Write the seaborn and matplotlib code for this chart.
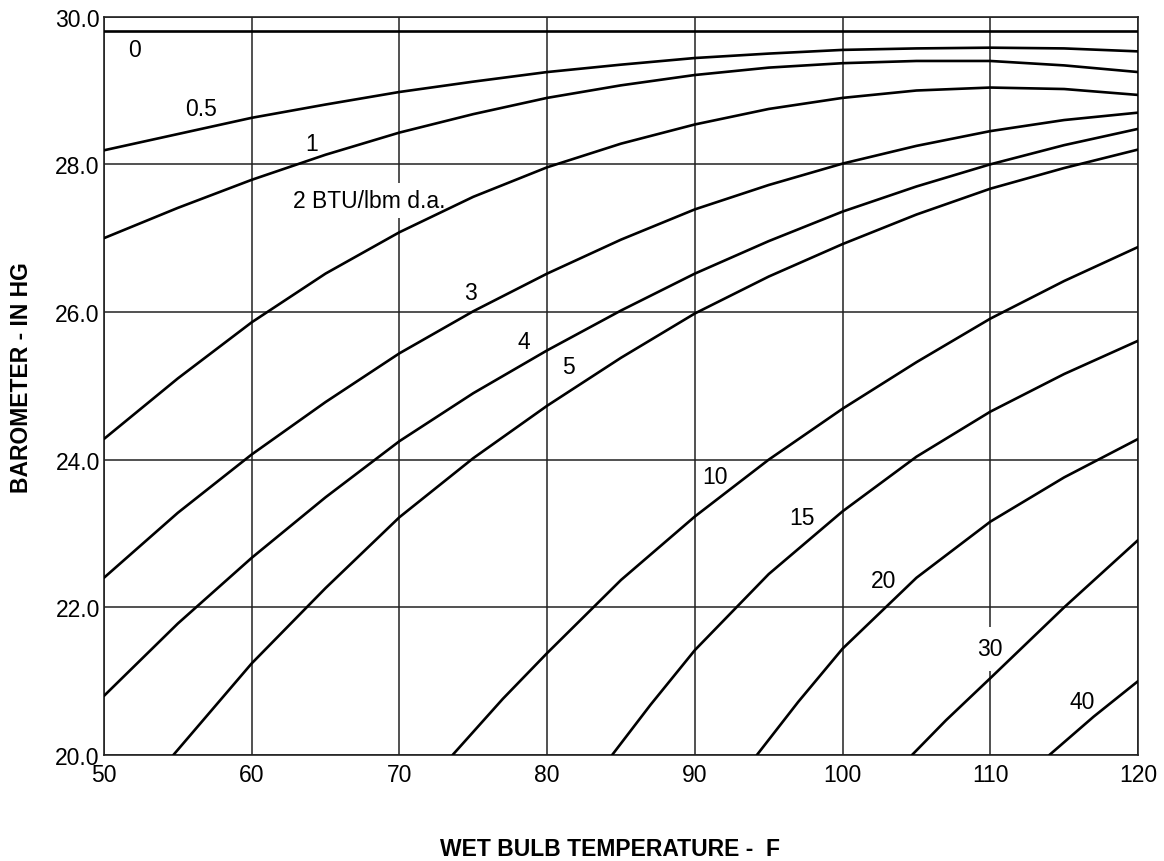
import matplotlib
matplotlib.use('Agg')
import matplotlib.pyplot as plt
import pandas as pd
import seaborn as sns

# Chart data: barometer (in Hg) vs wet bulb temperature (F) per curve
wb_full = [50, 55, 60, 65, 70, 75, 80, 85, 90, 95, 100, 105, 110, 115, 120]

curve_0_x = [50, 120]
curve_0_y = [29.80, 29.80]

curve_05_x = wb_full
curve_05_y = [28.19, 28.41, 28.63, 28.81, 28.98, 29.12, 29.25, 29.35, 29.44, 29.50,
              29.55, 29.57, 29.58, 29.57, 29.53]

curve_1_x = wb_full
curve_1_y = [27.00, 27.41, 27.79, 28.13, 28.43, 28.68, 28.90, 29.07, 29.21, 29.31,
             29.37, 29.40, 29.40, 29.34, 29.25]

curve_2_x = wb_full
curve_2_y = [24.28, 25.10, 25.86, 26.52, 27.08, 27.56, 27.96, 28.28, 28.54, 28.75,
             28.90, 29.00, 29.04, 29.02, 28.94]

curve_3_x = wb_full
curve_3_y = [22.40, 23.28, 24.07, 24.78, 25.44, 26.01, 26.52, 26.98, 27.39, 27.72,
             28.01, 28.25, 28.45, 28.60, 28.70]

curve_4_x = wb_full
curve_4_y = [20.80, 21.78, 22.67, 23.49, 24.25, 24.90, 25.48, 26.02, 26.52, 26.96,
             27.36, 27.70, 28.00, 28.26, 28.48]

curve_5_x = [54.7, 60, 65, 70, 75, 80, 85, 90, 95, 100, 105, 110, 115, 120]
curve_5_y = [20.00, 21.24, 22.26, 23.22, 24.02, 24.73, 25.38, 25.98, 26.48, 26.92,
             27.32, 27.67, 27.95, 28.20]

curve_10_x = [73.6, 77, 80, 85, 90, 95, 100, 105, 110, 115, 120]
curve_10_y = [20.00, 20.76, 21.38, 22.37, 23.23, 24.00, 24.69, 25.32, 25.91, 26.42, 26.88]

curve_15_x = [84.4, 87, 90, 95, 100, 105, 110, 115, 120]
curve_15_y = [20.00, 20.68, 21.42, 22.45, 23.30, 24.04, 24.65, 25.16, 25.61]

curve_20_x = [94.2, 97, 100, 105, 110, 115, 120]
curve_20_y = [20.00, 20.72, 21.44, 22.40, 23.16, 23.76, 24.28]

curve_30_x = [104.7, 107, 110, 115, 120]
curve_30_y = [20.00, 20.47, 21.04, 22.00, 22.91]

curve_40_x = [114.0, 117, 120]
curve_40_y = [20.00, 20.52, 21.00]

curve_names = ['0', '0.5', '1', '2', '3', '4', '5', '10', '15', '20', '30', '40']
curve_xs = [curve_0_x, curve_05_x, curve_1_x, curve_2_x, curve_3_x, curve_4_x,
            curve_5_x, curve_10_x, curve_15_x, curve_20_x, curve_30_x, curve_40_x]
curve_ys = [curve_0_y, curve_05_y, curve_1_y, curve_2_y, curve_3_y, curve_4_y,
            curve_5_y, curve_10_y, curve_15_y, curve_20_y, curve_30_y, curve_40_y]

# curve labels and where they sit
label_texts = ['0', '0.5', '1', '2 BTU/lbm d.a.', '3', '4', '5', '10', '15', '20', '30', '40']
label_x = [52.05, 56.6, 64.06, 62.78, 74.78, 78.39, 81.44, 91.37, 97.24, 102.77, 109.99, 116.2]
label_y = [29.55, 28.75, 28.28, 27.51, 26.27, 25.60, 25.26, 23.77, 23.22, 22.36, 21.44, 20.73]

x_ticks = [50, 60, 70, 80, 90, 100, 110, 120]
y_ticks = [20, 22, 24, 26, 28, 30]

# long table for seaborn
rows = []
for name, xs, ys in zip(curve_names, curve_xs, curve_ys):
    for xv, yv in zip(xs, ys):
        rows.append({'curve': name, 'wet_bulb': xv, 'barometer': yv})
df = pd.DataFrame(rows)

sns.set_style('white')
plt.rcParams['font.family'] = ['Liberation Sans', 'DejaVu Sans']
plt.rcParams['text.color'] = 'black'
plt.rcParams['axes.labelcolor'] = 'black'

fig = plt.figure(figsize=(11.64, 8.62), dpi=100)
ax = fig.add_axes([0.0893, 0.1230, 0.8884, 0.8565])

sns.lineplot(data=df, x='wet_bulb', y='barometer', units='curve', estimator=None,
             sort=False, color='black', linewidth=1.9, ax=ax, zorder=3)

ax.set_xlim(50, 120)
ax.set_ylim(20, 30)
ax.set_xticks(x_ticks)
ax.set_yticks(y_ticks)
ax.set_yticklabels([f'{v:.1f}' for v in y_ticks])
ax.tick_params(axis='both', length=0, labelsize=16.5, colors='black')
ax.tick_params(axis='x', pad=6)
ax.tick_params(axis='y', pad=3)
ax.grid(True, color='#222222', linewidth=1.1)
ax.set_axisbelow(True)
for sp in ax.spines.values():
    sp.set_color('#222222')
    sp.set_linewidth(1.2)

for txt, lx, ly in zip(label_texts, label_x, label_y):
    if txt.startswith('2 '):
        ax.text(lx, ly, txt, fontsize=16.5, ha='left', va='center', zorder=2,
                bbox=dict(boxstyle='square,pad=0.25', facecolor='white', edgecolor='none'))
    else:
        if txt == '30':
            # the gridline is broken around this label
            ax.vlines(lx, ly - 0.3, ly + 0.3, color='white', linewidth=4, zorder=1.5)
        ax.text(lx, ly, txt, fontsize=16.5, ha='center', va='center', zorder=2)

ax.set_xlabel('WET BULB TEMPERATURE -  F', fontsize=16.5, fontweight='bold')
ax.set_ylabel('BAROMETER - IN HG', fontsize=16.5, fontweight='bold')
ax.xaxis.set_label_coords(0.489, -0.111)
ax.yaxis.set_label_coords(-0.069, 0.513)

fig.savefig('out.png', dpi=100)
